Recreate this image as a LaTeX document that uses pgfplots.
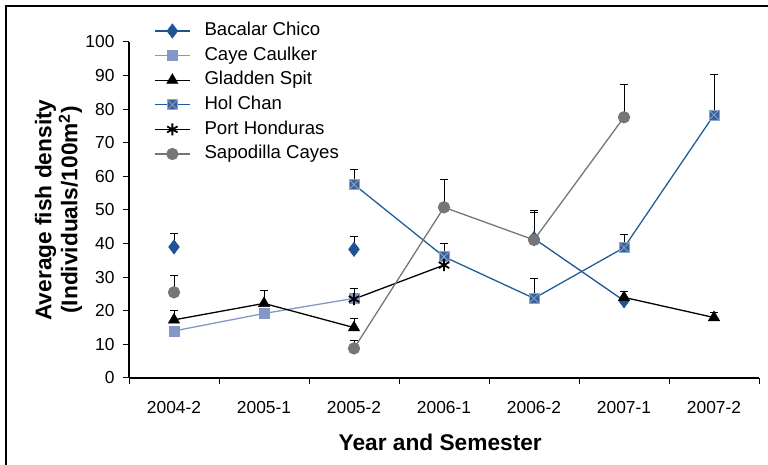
\documentclass[border=0pt]{standalone}
\usepackage{pgfplots}
\pgfplotsset{compat=1.18}
\usepackage{pgfplotstable}
\usepackage{fontspec}
\setmainfont{Liberation Sans}
\definecolor{bacalar}{HTML}{1F5494}
\definecolor{caye}{HTML}{8497C6}
\definecolor{holline}{HTML}{1F5F99}
\definecolor{holfill}{HTML}{3A6399}
\definecolor{holcross}{HTML}{8FA4CC}
\definecolor{sapo}{HTML}{767676}

\pgfdeclareplotmark{sqx}{%
  \pgfpathrectangle{\pgfpoint{-\pgfplotmarksize}{-\pgfplotmarksize}}{\pgfpoint{2\pgfplotmarksize}{2\pgfplotmarksize}}%
  \pgfusepathqfillstroke
  \pgfpathmoveto{\pgfpoint{-\pgfplotmarksize}{-\pgfplotmarksize}}%
  \pgfpathlineto{\pgfpoint{\pgfplotmarksize}{\pgfplotmarksize}}%
  \pgfpathmoveto{\pgfpoint{-\pgfplotmarksize}{\pgfplotmarksize}}%
  \pgfpathlineto{\pgfpoint{\pgfplotmarksize}{-\pgfplotmarksize}}%
  \pgfusepathqstroke
}

\pgfplotstableread{
x y
0 39.0
1 nan
2 38.3
3 nan
4 41.5
5 23.0
6 nan
}\bacalar
\pgfplotstableread{
x y
0 14.0
1 19.2
2 23.7
3 nan
4 nan
5 nan
6 nan
}\caye
\pgfplotstableread{
x y
0 17.3
1 22.2
2 15.0
3 nan
4 nan
5 24.0
6 18.0
}\gladden
\pgfplotstableread{
x y
0 nan
1 nan
2 57.6
3 36.1
4 23.7
5 38.8
6 78.3
}\holchan
\pgfplotstableread{
x y
0 nan
1 nan
2 23.5
3 33.6
4 nan
5 nan
6 nan
}\port
\pgfplotstableread{
x y
0 25.5
1 nan
2 8.8
3 50.8
4 41.1
5 77.6
6 nan
}\sapo
% upper error bars: x y err
\pgfplotstableread{
x y e
0 39.0 3.9
2 38.3 3.9
4 41.5 7.8
2 23.7 3.0
0 17.3 2.9
1 22.2 3.8
2 15.0 2.8
5 24.0 1.7
6 18.0 1.6
2 57.6 4.5
3 36.1 3.9
4 23.7 6.0
5 38.8 3.8
6 78.3 11.9
0 25.5 5.1
2 8.8 2.3
3 50.8 8.3
4 41.1 8.7
5 77.6 9.8
}\errs

\begin{document}
\begin{tikzpicture}
\useasboundingbox (0,0) rectangle (768pt,465pt);
\draw[line width=1.5pt] (6pt,0pt) -- (6pt,459pt) -- (768pt,459pt);
\begin{axis}[
  at={(129pt,87pt)}, anchor=south west,
  scale only axis, width=630pt, height=336pt,
  xmin=-0.5, xmax=6.5, ymin=0, ymax=100,
  axis lines=left,
  axis line style={-, line width=1.2pt, black},
  xtick={0,...,6},
  xticklabels={2004-2,2005-1,2005-2,2006-1,2006-2,2007-1,2007-2},
  minor xtick={-0.5,0.5,...,6.5},
  every major x tick/.append style={draw=none},
  ytick={0,10,...,100},
  tick align=outside,
  major tick length=6pt, minor tick length=6pt,
  tick style={black, line width=1pt},
  ticklabel style={font=\fontsize{17.4}{20}\selectfont},
  /pgf/number format/assume math mode=true,
  xticklabel style={anchor=base, yshift=-30pt},
  yticklabel style={anchor=east, xshift=-5pt},
  xlabel={\bfseries Year and Semester},
  xlabel style={font=\fontsize{22.7}{26}\selectfont, at={(axis description cs:0.494,-0.193)}, anchor=center},
  ylabel={\bfseries Average fish density\\\bfseries (Individuals/100m\textsuperscript{2})},
  ylabel style={font=\fontsize{22.7}{26}\selectfont, align=center, at={(axis description cs:-0.112,0.5)}, anchor=center, rotate=0},
  unbounded coords=jump,
  legend cell align=left,
  legend style={draw=none, fill=none, inner sep=0pt,
    at={(0.0397,1.061)}, anchor=north west,
    font=\fontsize{18.6}{22}\selectfont,
    nodes={inner sep=0pt, text height=14pt, text depth=4.6pt},
    row sep=6pt, column sep=14pt},
  legend image code/.code={%
    \draw[mark repeat=2, mark phase=2] plot coordinates {(0pt,0pt) (17.5pt,0pt) (35pt,0pt)};},
]
\addplot[draw=none, forget plot, error bars/.cd, y dir=plus, y explicit,
  error bar style={black, line width=1pt},
  error mark options={rotate=90, mark size=4pt, black, line width=1pt}]
  table[x=x, y=y, y error=e] {\errs};
\addplot[bacalar, line width=1.3pt, mark=diamond*, mark size=7.2pt, mark options={fill=bacalar, draw=bacalar, line width=0.5pt}]
  table[x=x,y=y] {\bacalar};
\addlegendentry{Bacalar Chico}
\addplot[caye, line width=1.3pt, mark=square*, mark size=5pt, mark options={fill=caye, draw=caye, line width=0.5pt}]
  table[x=x,y=y] {\caye};
\addlegendentry{Caye Caulker}
\addplot[black, line width=1.3pt, mark=triangle*, mark size=6.5pt, mark options={fill=black, line width=0.5pt}]
  table[x=x,y=y] {\gladden};
\addlegendentry{Gladden Spit}
\addplot[holline, line width=1.3pt, mark=sqx, mark size=5pt, mark options={fill=holfill, draw=holcross, line width=0.8pt}]
  table[x=x,y=y] {\holchan};
\addlegendentry{Hol Chan}
\addplot[black, line width=1.3pt, mark=asterisk, mark size=6pt, mark options={line width=1.8pt}]
  table[x=x,y=y] {\port};
\addlegendentry{Port Honduras}
\addplot[sapo, line width=1.3pt, mark=*, mark size=5.5pt, mark options={fill=sapo, draw=sapo}]
  table[x=x,y=y] {\sapo};
\addlegendentry{Sapodilla Cayes}
\end{axis}
\end{tikzpicture}
\end{document}
